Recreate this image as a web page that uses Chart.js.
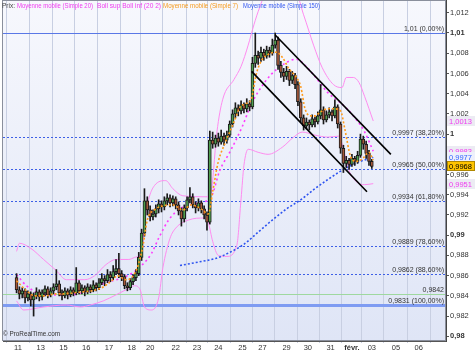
<!DOCTYPE html>
<html>
<head>
<meta charset="utf-8">
<title>Prix</title>
<script src="https://cdn.jsdelivr.net/npm/chart.js@4.4.1/dist/chart.umd.min.js"></script>
<style>
  html, body { margin: 0; padding: 0; background: #fff; }
  #box { width: 475px; height: 354px; }
</style>
</head>
<body>
<div id="box"><canvas id="price-chart" width="475" height="354"></canvas></div>
<script>
// prices are written in pips (0.0001)
const PIP = 0.0001;

// x axis: one unit = one candle
const dayTicks = [0.5, 8.5, 16.5, 24.5, 32.5, 40.5, 47, 56, 63.5, 71, 79.5, 86.5, 95, 102.5, 110.5, 118, 125, 133.5, 141.5];
const dayLabels = ['11', '13', '15', '16', '17', '18', '20', '22', '23', '24', '25', '27', '29', '30', '31', 'févr.', '03', '05', '06'];

const priceTicks = [0.98, 0.982, 0.984, 0.986, 0.988, 0.99, 0.992, 0.994, 0.996, 0.998, 1, 1.002, 1.004, 1.006, 1.008, 1.01, 1.012];
const priceLabels = ['0,98', '0,982', '0,984', '0,986', '0,988', '0,99', '0,992', '0,994', '0,996', '0,998', '1', '1,002', '1,004', '1,006', '1,008', '1,01', '1,012'];
const boldPrices = [0.98, 0.99, 1, 1.01];

// candles
const openPips = [9858, 9846, 9842, 9845, 9838, 9842, 9836, 9840, 9844, 9839, 9843, 9847, 9841, 9845, 9849, 9852, 9843, 9840, 9845, 9841,
  9846, 9843, 9853, 9845, 9848, 9844, 9849, 9846, 9851, 9848, 9853, 9857, 9855, 9861, 9858, 9864, 9867, 9862, 9859, 9850,
  9848, 9854, 9858, 9862, 9878, 9902, 9934, 9925, 9918, 9921, 9926, 9931, 9928, 9934, 9937, 9932, 9936, 9930, 9924, 9916,
  9927, 9935, 9938, 9930, 9927, 9932, 9926, 9920, 9913, 9994, 9990, 9996, 9992, 9998, 9994, 9999, 10010, 10020, 10026, 10023,
  10029, 10025, 10030, 10027, 10070, 10078, 10075, 10081, 10077, 10083, 10080, 10088, 10093, 10068, 10061, 10057, 10062, 10053, 10058, 10049,
  10032, 10016, 10008, 10012, 10009, 10015, 10012, 10018, 10024, 10014, 10019, 10022, 10018, 10027, 10010, 9986, 9971, 9974, 9970, 9976,
  9973, 9979, 9995, 9990, 9981, 9973];
const highPips = [9862, 9849, 9848, 9847, 9845, 9844, 9843, 9848, 9846, 9846, 9850, 9849, 9848, 9852, 9866, 9855, 9846, 9848, 9847, 9849,
  9848, 9868, 9855, 9851, 9850, 9852, 9851, 9855, 9853, 9857, 9862, 9860, 9866, 9864, 9870, 9876, 9882, 9865, 9861, 9853,
  9857, 9861, 9866, 9883, 9906, 9946, 9938, 9929, 9925, 9930, 9935, 9934, 9938, 9941, 9940, 9939, 9938, 9933, 9927, 9930,
  9938, 9947, 9941, 9933, 9936, 9934, 9929, 9923, 10003, 10002, 9999, 10001, 10004, 10001, 10003, 10013, 10024, 10031, 10029, 10033,
  10031, 10035, 10033, 10076, 10100, 10082, 10086, 10084, 10087, 10086, 10094, 10100, 10096, 10072, 10065, 10067, 10064, 10062, 10060, 10052,
  10035, 10019, 10016, 10014, 10019, 10017, 10022, 10049, 10027, 10023, 10026, 10024, 10034, 10029, 10012, 9989, 9978, 9976, 9980, 9978,
  9983, 10000, 9998, 9993, 9984, 9975];
const lowPips = [9843, 9837, 9838, 9833, 9835, 9830, 9820, 9837, 9835, 9836, 9840, 9838, 9839, 9842, 9846, 9840, 9836, 9838, 9837, 9839,
  9840, 9841, 9842, 9842, 9840, 9842, 9843, 9844, 9845, 9846, 9851, 9850, 9853, 9854, 9856, 9861, 9858, 9855, 9847, 9845,
  9846, 9851, 9855, 9860, 9875, 9899, 9920, 9914, 9915, 9918, 9922, 9923, 9925, 9930, 9928, 9929, 9926, 9920, 9909, 9913,
  9924, 9932, 9927, 9922, 9924, 9922, 9916, 9905, 9911, 9986, 9987, 9988, 9990, 9989, 9991, 9997, 10007, 10016, 10018, 10020,
  10021, 10022, 10023, 10025, 10066, 10069, 10072, 10073, 10075, 10076, 10078, 10085, 10064, 10056, 10052, 10054, 10048, 10050, 10045, 10028,
  10012, 10004, 10005, 10004, 10007, 10007, 10010, 10015, 10010, 10012, 10016, 10013, 10016, 10006, 9981, 9962, 9967, 9965, 9968, 9969,
  9971, 9977, 9985, 9976, 9969, 9966];
const closePips = [9846, 9842, 9845, 9838, 9842, 9836, 9840, 9844, 9839, 9843, 9847, 9841, 9845, 9849, 9852, 9843, 9840, 9845, 9841, 9846,
  9843, 9853, 9845, 9848, 9844, 9849, 9846, 9851, 9848, 9853, 9857, 9855, 9861, 9858, 9864, 9867, 9862, 9859, 9850, 9848,
  9854, 9858, 9862, 9878, 9902, 9934, 9925, 9918, 9921, 9926, 9931, 9928, 9934, 9937, 9932, 9936, 9930, 9924, 9916, 9927,
  9935, 9938, 9930, 9927, 9932, 9926, 9920, 9913, 9994, 9990, 9996, 9992, 9998, 9994, 9999, 10010, 10020, 10026, 10023, 10029,
  10025, 10030, 10027, 10070, 10078, 10075, 10081, 10077, 10083, 10080, 10088, 10093, 10068, 10061, 10057, 10062, 10053, 10058, 10049, 10032,
  10016, 10008, 10012, 10009, 10015, 10012, 10018, 10024, 10014, 10019, 10022, 10018, 10027, 10010, 9986, 9971, 9974, 9970, 9976, 9973,
  9979, 9995, 9990, 9981, 9973, 9968];

// Moyenne mobile (Simple 7)
const ma7Bars = [0, 3.5, 6.5, 10, 13.5, 16.5, 20, 23.5, 26.5, 30, 33.5, 35.5, 38.5, 40.5, 42.5, 44.5, 46, 48.5, 51.5, 55,
  58.5, 61.5, 65, 67.5, 69, 71, 73.5, 76.5, 78.5, 80.5, 82.5, 84.5, 86.5, 89.5, 91.5, 93.5, 96, 98.5, 100, 101.5,
  103.5, 105, 107, 109.5, 111.5, 114, 115.5, 117.5, 119.5, 121.5, 124, 125.5];
const ma7Pips = [9855, 9845, 9840, 9840, 9842, 9842, 9843, 9844, 9845, 9848, 9855, 9860, 9856, 9858, 9868, 9890, 9915, 9925, 9929, 9930,
  9925, 9930, 9926, 9921, 9943, 9973, 9992, 10012, 10026, 10030, 10034, 10061, 10074, 10080, 10081, 10076, 10064, 10056, 10047, 10025,
  10018, 10018, 10022, 10025, 10025, 10023, 10005, 9978, 9973, 9975, 9982, 9974];

// Moyenne mobile (Simple 20)
const ma20Bars = [0, 3.5, 9.5, 15, 21.5, 25, 31.5, 37.5, 41.5, 44, 47.5, 50, 53.5, 58, 64, 68.5, 71.5, 75, 79.5, 82.5,
  87.5, 91.5, 98.5, 101.5, 105, 109.5, 114, 118.5, 122.5, 125.5];
const ma20Pips = [9861, 9850, 9841, 9841, 9842, 9845, 9853, 9858, 9864, 9870, 9882, 9897, 9915, 9927, 9932, 9938, 9964, 9982, 10008, 10029,
  10052, 10064, 10074, 10068, 10057, 10041, 10031, 10018, 10002, 9983];

// Moyenne mobile (Simple 150)
const ma150Bars = [57.5, 65, 70, 75, 80, 85, 90, 95, 100.5, 105, 110, 115, 120, 125.5];
const ma150Pips = [9870, 9874, 9877, 9883, 9891, 9903, 9915, 9926, 9936, 9946, 9956, 9965, 9972, 9977];

// Boll sup / Boll inf (20 2)
const bollUpBars = [0, 1, 5, 9.5, 14, 17.5, 24, 27.5, 31.5, 35, 39.5, 41.5, 44, 45.5, 48.5, 52.5, 55, 58.5, 67.5, 68.5,
  70.5, 72.5, 76.5, 79, 81.5, 83.5, 85.5, 87.5, 98.5, 101, 104.5, 107.5, 111.5, 114.5, 116, 118.5, 120.5, 122.5, 125.5];
const bollUpPips = [9884, 9892, 9887, 9876, 9865, 9856, 9856, 9860, 9871, 9876, 9876, 9878, 9884, 9922, 9949, 9954, 9946, 9939, 9938, 9943,
  10002, 10034, 10054, 10067, 10088, 10108, 10125, 10137, 10137, 10118, 10088, 10066, 10049, 10046, 10056, 10056, 10051, 10037, 10013];
const bollLowBars = [0, 2.5, 9.5, 17.5, 22.5, 26, 30.5, 35, 38.5, 41.5, 43.5, 45, 47.5, 50, 51.5, 54, 56, 60.5, 66, 67.5,
  69, 71, 74, 77.5, 79, 80, 81.5, 85, 88.5, 93.5, 97.5, 100.5, 105, 109.5, 113.5, 115, 117, 119.5, 122.5, 125.5];
const bollLowPips = [9835, 9826, 9829, 9831, 9829, 9831, 9835, 9841, 9846, 9850, 9846, 9829, 9826, 9838, 9868, 9897, 9907, 9915, 9917, 9912,
  9894, 9880, 9879, 9890, 9936, 9969, 9985, 9982, 9980, 9987, 9997, 10002, 9999, 9997, 9998, 9985, 9964, 9953, 9950, 9951];

// drawn channel
const channelTopBars = [91, 131.7];
const channelTopPrices = [1.0098, 0.9980];
const channelLowBars = [82.7, 123.3];
const channelLowPrices = [1.0062, 0.9943];

// Fibonacci retracement
const fibPrices = [1.01, 0.9997, 0.9965, 0.9934, 0.9889, 0.9862, 0.9831];
const fibLabels = ['1,01 (0,00%)', '0,9997 (38,20%)', '0,9965 (50,00%)', '0,9934 (61,80%)', '0,9889 (78,60%)', '0,9862 (88,60%)', '0,9831 (100,00%)'];
const supportPrice = 0.9842;
const supportLabel = '0,9842';

// last values shown on the price axis
const tagPrices = [1.0013, 0.9983, 0.9977, 0.9968, 0.9951];
const tagLabels = ['1,0013', '0,9983', '0,9977', '0,9968', '0,9951'];

const FONT = "'Liberation Sans', Arial, sans-serif";

function points(bars, pips) {
    return bars.map((b, i) => ({ x: b, y: pips[i] * PIP }));
}

document.addEventListener("DOMContentLoaded", function () {
    const wicks = openPips.map((o, i) => ({ x: i, y: [lowPips[i] * PIP, highPips[i] * PIP] }));
    const bodies = openPips.map((o, i) => ({ x: i, y: [o * PIP, closePips[i] * PIP] }));
    const bodyColors = openPips.map((o, i) => closePips[i] >= o ? '#4f9e4f' : '#a4573a');

    // background of the plot
    const backdrop = {
        id: 'backdrop',
        beforeDraw(chart) {
            const { ctx, chartArea: a } = chart;
            ctx.save();
            ctx.fillStyle = '#ffffff';
            ctx.fillRect(0, 0, chart.width, chart.height);
            const g = ctx.createLinearGradient(0, a.top, 0, a.bottom);
            g.addColorStop(0, '#f7f8fd');
            g.addColorStop(1, '#dfe5f6');
            ctx.fillStyle = g;
            ctx.fillRect(a.left, a.top, a.right - a.left, a.bottom - a.top);
            ctx.restore();
        }
    };

    // Fibonacci levels and the green support line
    const fibLines = {
        id: 'fibLines',
        beforeDatasetsDraw(chart) {
            const { ctx, chartArea: a, scales } = chart;
            ctx.save();
            ctx.font = '7px ' + FONT;
            ctx.textAlign = 'right';
            ctx.textBaseline = 'bottom';
            fibPrices.forEach((p, i) => {
                const y = Math.round(scales.y.getPixelForValue(p)) + 0.5;
                ctx.beginPath();
                if (i === 0) {
                    ctx.setLineDash([]);
                    ctx.strokeStyle = '#5a78e6';
                    ctx.lineWidth = 1;
                } else if (i === fibPrices.length - 1) {
                    ctx.setLineDash([]);
                    ctx.strokeStyle = '#7f9cf2';
                    ctx.lineWidth = 3;
                } else {
                    ctx.setLineDash([2, 2]);
                    ctx.strokeStyle = '#3d5fe6';
                    ctx.lineWidth = 1;
                }
                ctx.moveTo(a.left, y);
                ctx.lineTo(a.right, y);
                ctx.stroke();
                ctx.fillStyle = '#333';
                ctx.fillText(fibLabels[i], a.right - 2, y - 1);
            });
            const ys = Math.round(scales.y.getPixelForValue(supportPrice)) + 0.5;
            ctx.setLineDash([]);
            ctx.strokeStyle = '#9fd89f';
            ctx.lineWidth = 1;
            ctx.beginPath();
            ctx.moveTo(a.left, ys);
            ctx.lineTo(a.right, ys);
            ctx.stroke();
            ctx.fillStyle = '#333';
            ctx.fillText(supportLabel, a.right - 2, ys - 1);
            ctx.restore();
        }
    };

    // legend row, copyright and value tags on the right axis
    const overlay = {
        id: 'overlay',
        afterDraw(chart) {
            const { ctx, chartArea: a, scales } = chart;
            ctx.save();
            ctx.strokeStyle = '#8a8f9c';
            ctx.lineWidth = 1;
            ctx.strokeRect(a.left - 0.5, a.top + 0.5, a.right - a.left, a.bottom - a.top - 1);

            ctx.font = '8px ' + FONT;
            ctx.textBaseline = 'middle';
            ctx.textAlign = 'left';
            const legend = [
                ['Prix:', '#444', 2, 13],
                ['Moyenne mobile (Simple 20)', '#f03cf0', 17, 76],
                ['Boll sup Boll inf (20 2)', '#f03cf0', 97, 64],
                ['Moyenne mobile (Simple 7)', '#f59a1e', 163, 75],
                ['Moyenne mobile (Simple 150)', '#3358f0', 243, 77]
            ];
            legend.forEach(([t, c, x, w]) => {
                ctx.fillStyle = c;
                ctx.fillText(t, x, 6, w);
            });
            ctx.fillStyle = '#333';
            ctx.fillText('\u00a9 ProRealTime.com', 3, 334, 57);

            const tagText = ['#f03cf0', '#f03cf0', '#3366ff', '#000', '#f03cf0'];
            const tagFill = ['#ecebf3', '#ecebf3', '#eef0fb', '#ffc400', '#ecebf3'];
            ctx.font = '7.5px ' + FONT;
            tagPrices.forEach((p, i) => {
                const y = Math.round(scales.y.getPixelForValue(p));
                ctx.fillStyle = tagFill[i];
                ctx.fillRect(a.right + 1, y - 5, 28, 10);
                if (i === 3) {
                    ctx.strokeStyle = '#b08800';
                    ctx.strokeRect(a.right + 1.5, y - 4.5, 27, 9);
                }
                ctx.fillStyle = tagText[i];
                ctx.fillText(tagLabels[i], a.right + 3, y + 0.5, 25);
            });
            ctx.restore();
        }
    };

    const lineSet = (label, data, color, width, dash) => ({
        type: 'line',
        label: label,
        data: data,
        borderColor: color,
        borderWidth: width,
        borderDash: dash,
        pointRadius: 0,
        cubicInterpolationMode: 'monotone',
        fill: false
    });

    const priceCanvas = document.getElementById('price-chart');
    new Chart(priceCanvas.getContext('2d'), {
        type: 'bar',
        data: {
            datasets: [
                lineSet('Canal haut', points(channelTopBars, channelTopPrices.map(v => v / PIP)), '#000', 1.6, []),
                lineSet('Canal bas', points(channelLowBars, channelLowPrices.map(v => v / PIP)), '#000', 1.6, []),
                lineSet('Moyenne mobile (Simple 7)', points(ma7Bars, ma7Pips), '#ff9a1a', 1.6, [2, 2]),
                {
                    label: 'Prix',
                    data: bodies,
                    backgroundColor: bodyColors,
                    borderColor: '#1a1a1a',
                    borderWidth: 1,
                    borderSkipped: false,
                    barThickness: 3,
                    minBarLength: 1,
                    grouped: false
                },
                {
                    label: 'Mèches',
                    data: wicks,
                    backgroundColor: '#1a1a1a',
                    borderWidth: 0,
                    barThickness: 1,
                    grouped: false
                },
                lineSet('Moyenne mobile (Simple 20)', points(ma20Bars, ma20Pips), '#ff3cff', 1.6, [2, 3]),
                lineSet('Moyenne mobile (Simple 150)', points(ma150Bars, ma150Pips), '#2f55f0', 1.6, [2, 2]),
                lineSet('Boll sup', points(bollUpBars, bollUpPips), '#ff8cf0', 1, []),
                lineSet('Boll inf', points(bollLowBars, bollLowPips), '#ff8cf0', 1, [])
            ]
        },
        options: {
            responsive: false,
            animation: false,
            devicePixelRatio: 1,
            events: [],
            layout: { padding: { left: 3, top: 0, right: 0, bottom: 0 } },
            plugins: {
                legend: { display: false },
                tooltip: { enabled: false }
            },
            scales: {
                x: {
                    type: 'linear',
                    min: -0.667,
                    max: 147,
                    afterBuildTicks: s => { s.ticks = dayTicks.map(v => ({ value: v })); },
                    afterFit: s => { s.height = 13; s.paddingLeft = 0; s.paddingRight = 0; },
                    ticks: {
                        autoSkip: false,
                        maxRotation: 0,
                        padding: 0,
                        color: '#333',
                        callback: (v, i) => dayLabels[i],
                        font: c => ({ family: FONT, size: 7.5, weight: c.index === 15 ? 'bold' : 'normal' })
                    },
                    grid: { color: '#c8cfe2', lineWidth: 1, tickLength: 2 },
                    border: { color: '#555' }
                },
                y: {
                    position: 'right',
                    min: 0.979535,
                    max: 1.013264,
                    afterBuildTicks: s => { s.ticks = priceTicks.map(v => ({ value: v })); },
                    afterFit: s => { s.width = 29; s.paddingTop = 0; s.paddingBottom = 0; },
                    ticks: {
                        autoSkip: false,
                        padding: 1,
                        color: '#333',
                        callback: (v, i) => priceLabels[i],
                        font: c => ({ family: FONT, size: 7.5, weight: c.tick && boldPrices.includes(c.tick.value) ? 'bold' : 'normal' })
                    },
                    grid: { drawOnChartArea: false, color: '#555', tickLength: 3 },
                    border: { color: '#444' }
                }
            }
        },
        plugins: [backdrop, fibLines, overlay]
    });
});
</script>
</body>
</html>
